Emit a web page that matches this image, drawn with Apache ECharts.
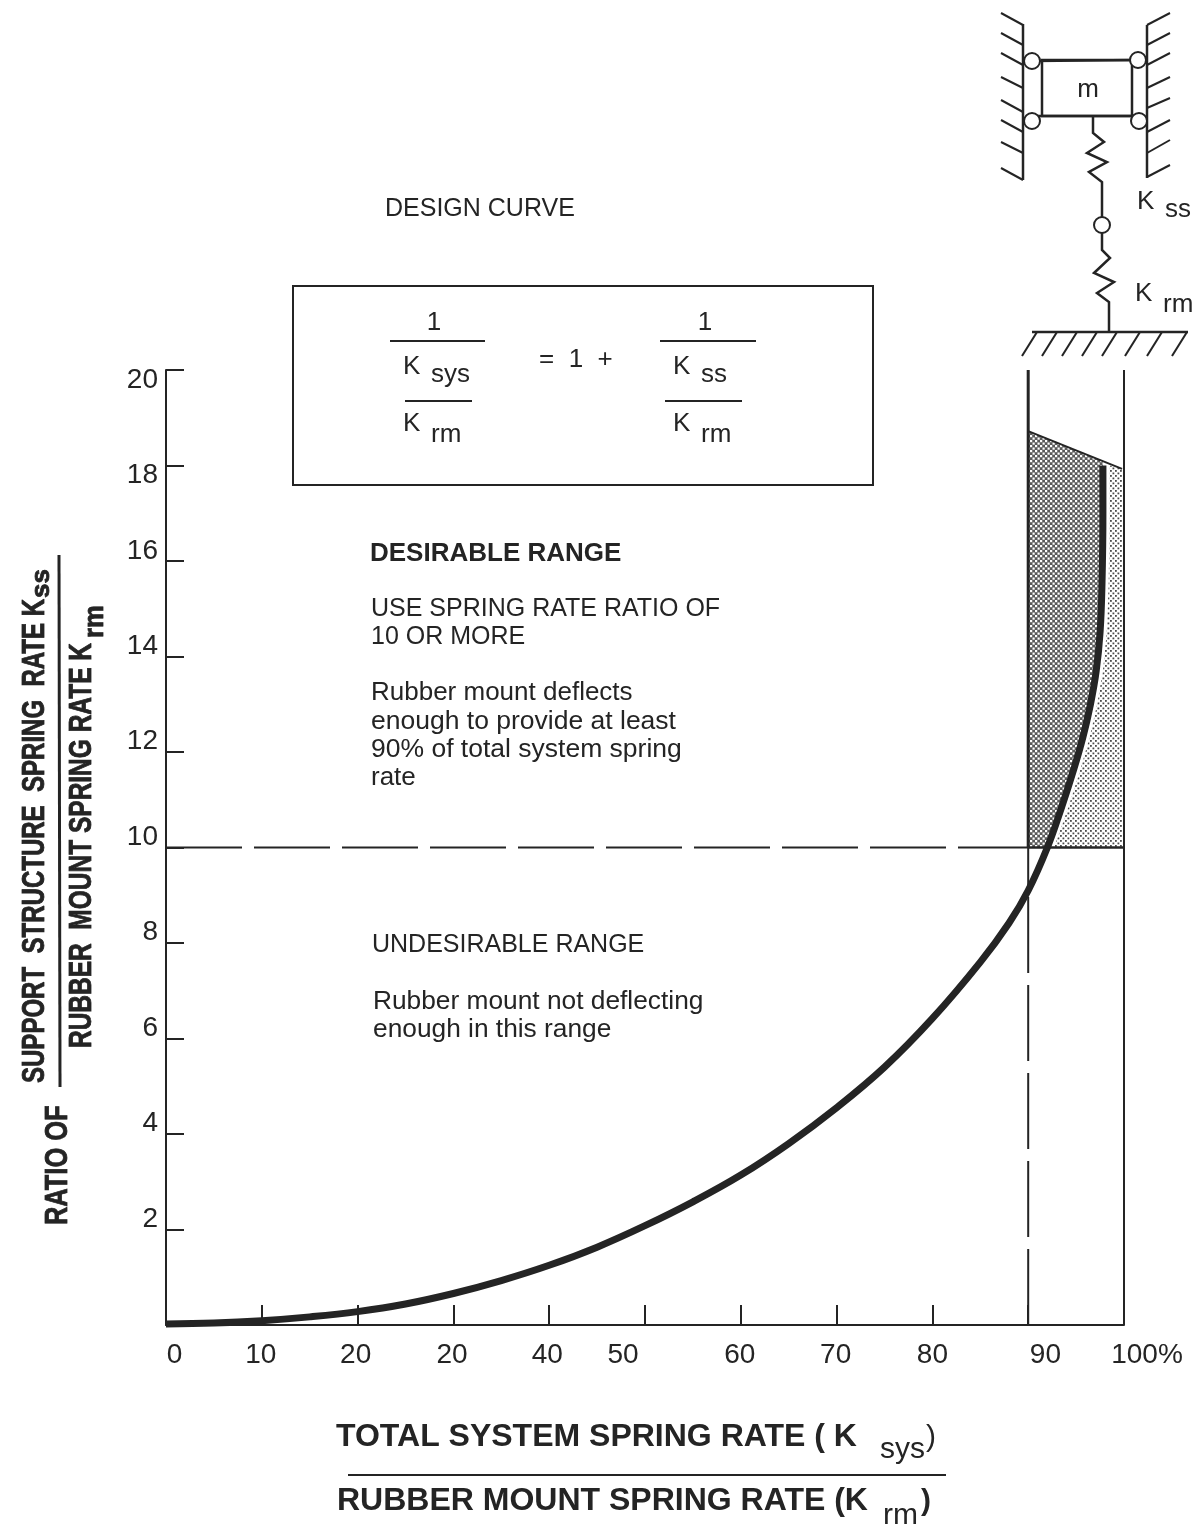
<!DOCTYPE html>
<html>
<head>
<meta charset="utf-8">
<title>Design curve</title>
<script src="https://cdn.jsdelivr.net/npm/echarts@6/dist/echarts.min.js"></script>
<style>
  html, body { margin: 0; padding: 0; background: #fff; }
  #main { width: 1203px; height: 1529px; }
</style>
</head>
<body>
<div id="main"></div>
<script>
// tick labels, the second 20 is how the original is printed
var xTickLabels = ['0', '10', '20', '20', '40', '50', '60', '70', '80', '90', '100%']
var yTickLabels = ['2', '4', '6', '8', '10', '12', '14', '16', '18', '20']
var xTicks = [10, 20, 30, 40, 50, 60, 70, 80, 90]
var yTicks = [2, 4, 6, 8, 10, 12, 14, 16, 18, 20]

// [total system rate %, spring rate ratio]
var designCurve = [
  [0, 0.02], [5, 0.04], [10, 0.09], [15, 0.17], [20, 0.28], [25, 0.44], [30, 0.66],
  [35, 0.93], [40, 1.25], [45, 1.63], [50, 2.08], [55, 2.58], [60, 3.14], [65, 3.8],
  [70, 4.55], [75, 5.4], [80, 6.42], [85, 7.6], [88, 8.42], [90, 9.1], [92, 10],
  [93.5, 10.85], [94.7, 11.6], [95.7, 12.3], [96.5, 13], [97.1, 13.7], [97.5, 14.5],
  [97.7, 15.5], [97.8, 17], [97.8, 18]
]
var bandTop = [[90, 18.72], [97.8, 18.1], [99.8, 17.93]]
var level10Dashed = [[0, 10], [90, 10]]
var level10Solid = [[90, 10], [100, 10]]
var limit90Dashed = [[90, 0], [90, 10]]
var limit90Solid = [[90, 10], [90, 20]]
var limit100 = [[100, 0], [100, 20]]

// where the printed labels really sit, they are not centred on the ticks
var xLabelAt = [0.9, 9.9, 19.8, 29.85, 39.8, 47.7, 59.9, 69.9, 80, 91.8, 100]
var yLabelAt = [2.22, 4.22, 6.22, 8.22, 10.22, 12.22, 14.22, 16.2, 17.8, 19.79]

var ink = '#242424'
var sans = '"Liberation Sans", Arial, sans-serif'

function stipple(base, dot, size) {
  var c = document.createElement('canvas')
  c.width = 5
  c.height = 5
  var ctx = c.getContext('2d')
  ctx.fillStyle = base
  ctx.fillRect(0, 0, 5, 5)
  ctx.fillStyle = dot
  ctx.fillRect(0, 0, size, size)
  ctx.fillRect(2.5, 2.5, size, size)
  return c
}
var darkDots = stipple('#5a5a5a', '#ffffff', 2.2)
var lightDots = stipple('#ffffff', '#4a4a4a', 1.8)

function txt(text, x, y, size, extra) {
  var el = {
    type: 'text', x: x, y: y + 1.5, z: 20,
    style: { text: text, fontSize: size, fontFamily: sans, fill: ink, verticalAlign: 'middle', align: 'left' }
  }
  if (extra) {
    if (extra.weight) el.style.fontWeight = extra.weight
    if (extra.align) el.style.align = extra.align
    if (extra.rotation) {
      // turned text, squeezed, so the stems need some help
      el.rotation = extra.rotation
      el.y = y
      el.style.stroke = ink
      el.style.lineWidth = 0.8
    }
    if (extra.scaleX) el.scaleX = extra.scaleX
  }
  return el
}
function stroke(points, width) {
  return { type: 'polyline', z: 20, shape: { points: points }, style: { stroke: ink, lineWidth: width || 2, fill: null } }
}
function ring(x, y, r) {
  return { type: 'circle', z: 21, shape: { cx: x, cy: y, r: r }, style: { fill: '#fff', stroke: ink, lineWidth: 2 } }
}

var graphics = [
  txt('DESIGN CURVE', 385, 208, 25),
  // formula box
  { type: 'rect', z: 20, shape: { x: 293, y: 286, width: 580, height: 199 }, style: { fill: null, stroke: ink, lineWidth: 2 } },
  txt('1', 434, 321, 26, { align: 'center' }),
  stroke([[390, 341], [485, 341]]),
  txt('K', 403, 365, 26), txt('sys', 431, 373, 26),
  stroke([[405, 401], [472, 401]]),
  txt('K', 403, 422, 26), txt('rm', 431, 433, 26),
  txt('=  1  +', 539, 358, 26),
  txt('1', 705, 321, 26, { align: 'center' }),
  stroke([[660, 341], [756, 341]]),
  txt('K', 673, 365, 26), txt('ss', 701, 373, 26),
  stroke([[665, 401], [742, 401]]),
  txt('K', 673, 422, 26), txt('rm', 701, 433, 26),
  // range notes
  txt('DESIRABLE RANGE', 370, 552, 26, { weight: 'bold' }),
  txt('USE SPRING RATE RATIO OF', 371, 608, 25),
  txt('10 OR MORE', 371, 636, 25),
  txt('Rubber mount deflects', 371, 691, 26),
  txt('enough to provide at least', 371, 720, 26.5),
  txt('90% of total system spring', 371, 748, 26.5),
  txt('rate', 371, 776, 26),
  txt('UNDESIRABLE RANGE', 372, 944, 25),
  txt('Rubber mount not deflecting', 373, 1000, 26.3),
  txt('enough in this range', 373, 1028, 26.3),
  // x title
  txt('TOTAL SYSTEM SPRING RATE ( K', 336, 1436, 32, { weight: 'bold' }),
  txt('sys', 880, 1448, 30), txt(')', 926, 1436, 30),
  stroke([[348, 1475], [946, 1475]]),
  txt('RUBBER MOUNT SPRING RATE (K', 337, 1500, 32, { weight: 'bold' }),
  txt('rm', 883, 1514, 30), txt(')', 921, 1500, 30, { weight: 'bold' }),
  // y title, rotated and squeezed
  txt('SUPPORT  STRUCTURE  SPRING  RATE K', 35, 1083, 31, { weight: 'bold', rotation: Math.PI / 2, scaleX: 0.775 }),
  txt('ss', 42, 598, 26, { weight: 'bold', rotation: Math.PI / 2 }),
  stroke([[59, 555], [60, 1087]], 3),
  txt('RUBBER  MOUNT SPRING RATE K', 82, 1048, 31, { weight: 'bold', rotation: Math.PI / 2, scaleX: 0.79 }),
  txt('rm', 96, 638, 27, { weight: 'bold', rotation: Math.PI / 2, scaleX: 0.95 }),
  txt('RATIO OF', 58, 1225, 31, { weight: 'bold', rotation: Math.PI / 2, scaleX: 0.82 })
]

// schematic, top right
var leftHatch = [[25, 13], [45, 33], [65, 53], [88, 77], [112, 100], [132, 120], [153, 142], [180, 168]]
leftHatch.forEach(function (h) { graphics.push(stroke([[1023, h[0]], [1001, h[1]]])) })
var rightHatch = [[25, 13], [45, 33], [65, 53], [88, 77], [108, 98], [132, 120], [153, 140], [177, 165]]
rightHatch.forEach(function (h) { graphics.push(stroke([[1147, h[0]], [1170, h[1]]])) })
var groundHatch = [1037, 1057, 1077, 1097, 1117, 1140, 1162, 1187]
groundHatch.forEach(function (gx) { graphics.push(stroke([[gx, 332], [gx - 15, 356]])) })
graphics.push(
  stroke([[1023, 24], [1023, 180]], 2.5),
  stroke([[1147, 25], [1147, 178]], 2.5),
  { type: 'rect', z: 20, shape: { x: 1042, y: 60, width: 90, height: 56 }, style: { fill: null, stroke: ink, lineWidth: 2.5 } },
  stroke([[1032, 61], [1138, 60]], 2.5),
  stroke([[1032, 116], [1139, 116]], 2.5),
  ring(1032, 61, 8), ring(1032, 121, 8), ring(1138, 60, 8), ring(1139, 121, 8),
  txt('m', 1088, 88, 26, { align: 'center' }),
  stroke([[1093, 116], [1093, 133], [1104, 142], [1087, 153], [1107, 162], [1089, 172], [1102, 182], [1102, 218]], 2.5),
  ring(1102, 225, 8),
  stroke([[1102, 233], [1102, 250], [1110, 258], [1094, 273], [1114, 282], [1097, 293], [1109, 302], [1109, 332]], 2.5),
  stroke([[1032, 332], [1188, 332]], 2.5),
  txt('K', 1137, 200, 26), txt('ss', 1165, 208, 26),
  txt('K', 1135, 292, 26), txt('rm', 1163, 303, 26)
)

function polygonItem(params, api, pts, dots) {
  return {
    type: 'polygon',
    shape: { points: pts.map(function (p) { return api.coord(p) }) },
    style: { fill: { image: dots, repeat: 'repeat' }, stroke: null }
  }
}
// region right of the curve, left a little clear of it as in the print
function lightBand(params, api) {
  var right = bandTop[bandTop.length - 1]
  var edge = designCurve.filter(function (p) { return p[1] >= 10 }).map(function (p) { return [p[0] + 0.7, p[1]] })
  var pts = edge.concat([right, [right[0], 10]])
  return polygonItem(params, api, pts, lightDots)
}
function darkBand(params, api) {
  var edge = designCurve.filter(function (p) { return p[1] >= 10 }).reverse()
  var pts = [[90, 10], bandTop[0], bandTop[1]].concat(edge)
  return polygonItem(params, api, pts, darkDots)
}

function refLine(data, width, dashed) {
  return {
    type: 'line', data: data, symbol: 'none', silent: true, z: 3, clip: false,
    lineStyle: { color: ink, width: width, type: dashed ? [76, 12] : 'solid' }
  }
}

var chart = echarts.init(document.getElementById('main'))
chart.setOption({
  animation: false,
  backgroundColor: '#fff',
  textStyle: { fontFamily: sans },
  graphic: graphics,
  grid: { left: 166, right: 79, top: 370, bottom: 204 },
  xAxis: {
    type: 'value', min: 0, max: 100, interval: 10,
    splitLine: { show: false },
    axisLine: { lineStyle: { color: ink, width: 2 } },
    axisTick: { inside: true, length: 20, customValues: xTicks, lineStyle: { color: ink, width: 2 } },
    axisLabel: {
      customValues: xLabelAt, margin: 16, fontSize: 28, color: ink,
      formatter: function (v, i) {
        var text = xTickLabels[xLabelAt.indexOf(v)]
        return text === '100%' ? '{last|' + text + '}' : text
      },
      rich: { last: { fontSize: 28, color: ink, padding: [0, 0, 0, 46] } }
    }
  },
  yAxis: {
    type: 'value', min: 0, max: 20, interval: 2,
    splitLine: { show: false },
    axisLine: { onZero: false, lineStyle: { color: ink, width: 2 } },
    axisTick: { inside: true, length: 18, customValues: yTicks, lineStyle: { color: ink, width: 2 } },
    axisLabel: {
      customValues: yLabelAt, margin: 8, fontSize: 28, color: ink,
      formatter: function (v) { return yTickLabels[yLabelAt.indexOf(v)] }
    }
  },
  series: [
    { type: 'custom', coordinateSystem: 'cartesian2d', data: [[95, 14]], renderItem: lightBand, silent: true, z: 1, clip: false },
    { type: 'custom', coordinateSystem: 'cartesian2d', data: [[92, 14]], renderItem: darkBand, silent: true, z: 1, clip: false },
    refLine(level10Dashed, 2, true),
    refLine(level10Solid, 2.5, false),
    refLine(limit90Dashed, 2, true),
    refLine(limit90Solid, 3, false),
    refLine(limit100, 2, false),
    refLine([bandTop[0], bandTop[2]], 2, false),
    {
      type: 'line', name: 'design curve', data: designCurve, symbol: 'none', smooth: 0.4, silent: true, z: 5, clip: false,
      lineStyle: { color: ink, width: 7, cap: 'butt' }
    }
  ]
})
</script>
</body>
</html>
